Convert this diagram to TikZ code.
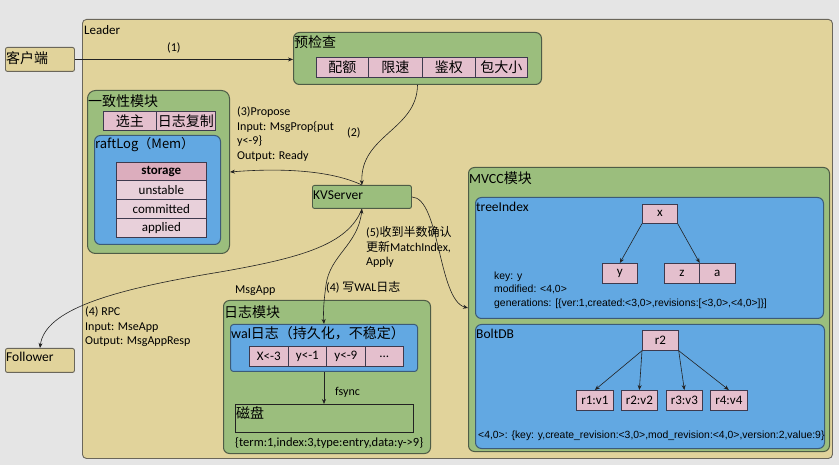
\documentclass[tikz,border=0pt]{standalone}
\usepackage{fontspec}
\setmainfont{Carlito}
\newfontfamily\cjk{Noto Sans CJK SC}
\newfontfamily\arialf{Liberation Sans}
\usetikzlibrary{arrows.meta}
\definecolor{bgc}{HTML}{E5E5E5}
\definecolor{tanc}{HTML}{E1D39B}
\definecolor{grnc}{HTML}{9BBE7D}
\definecolor{bluc}{HTML}{62A8E2}
\definecolor{pnkc}{HTML}{E4BFCD}
\definecolor{pnkd}{HTML}{DCADBD}
\definecolor{pnkl}{HTML}{E8D0DA}
\definecolor{edgec}{HTML}{6A665A}
\definecolor{gedge}{HTML}{4E5C46}
\definecolor{bedge}{HTML}{3C5B78}
\definecolor{cedge}{HTML}{3E3A4E}
\definecolor{linec}{HTML}{222222}
\tikzset{
  tanbox/.style={fill=tanc, draw=edgec, line width=0.9pt, rounded corners=2pt, inner sep=0pt, anchor=north west},
  grnbox/.style={fill=grnc, draw=gedge, line width=1pt, rounded corners=6pt, inner sep=0pt, anchor=north west},
  blubox/.style={fill=bluc, draw=bedge, line width=1pt, rounded corners=5pt, inner sep=0pt, anchor=north west},
  cell/.style={fill=pnkc, draw=cedge, line width=0.7pt, inner sep=0pt, anchor=north west, font=\fontsize{13}{15}\selectfont},
  zhcell/.style={cell, font=\cjk\fontsize{14}{16}\selectfont},
  lbl/.style={anchor=west, inner sep=0pt, font=\fontsize{13.5}{16}\selectfont},
  zhlbl/.style={anchor=west, inner sep=0pt, font=\cjk\fontsize{14}{16}\selectfont},
  note/.style={anchor=west, inner sep=0pt, align=left, font=\fontsize{12}{14.6}\selectfont},
  smalln/.style={anchor=west, inner sep=0pt, font=\arialf\fontsize{10.4}{12}\selectfont},
  conn/.style={draw=linec, line width=0.6pt, -{Stealth[length=5pt,width=4pt]}},
}
\newcommand{\bx}[6]{\node[#1, minimum width=#4pt, minimum height=#5pt] (#2) at (#3) {#6};}
\begin{document}
\begin{tikzpicture}[x=1pt,y=-1pt]
\fill[bgc] (0,0) rectangle (839,465);
\useasboundingbox (0,0) rectangle (839,465);

% Leader
\bx{tanbox, rounded corners=4pt}{leader}{82,19}{750}{439}{}
\node[lbl, font=\fontsize{13}{15}\selectfont] (leaderl) at (84,30) {Leader};

% client and follower
\bx{tanbox}{client}{5,47}{69}{24}{}
\node[zhlbl] (clientl) at (6,58) {客户端};
\bx{tanbox}{follower}{5,348}{69}{24}{}
\node[lbl] (followerl) at (6,357) {Follower};

% precheck
\bx{grnbox}{pre}{293,32}{248}{52}{}
\node[zhlbl] (prel) at (294,42) {预检查};
\bx{zhcell}{c1}{316,57}{52}{20}{配额}
\bx{zhcell}{c2}{368,57}{54}{20}{限速}
\bx{zhcell}{c3}{422,57}{53}{20}{鉴权}
\bx{zhcell}{c4}{475,57}{52}{20}{包大小}
\node[note] (n1) at (167,48) {(1)};

% consistency module
\bx{grnbox, rounded corners=8pt}{cons}{87,90}{142}{163}{}
\node[zhlbl] (consl) at (88,101) {一致性模块};
\bx{zhcell}{e1}{103,111}{53}{19}{选主}
\bx{zhcell}{e2}{156,111}{59}{19}{日志复制}
\bx{blubox, rounded corners=6pt}{raft}{94,135}{126}{109}{}
\node[zhlbl, font=\cjk\fontsize{13}{15}\selectfont] (raftl) at (95,145) {raftLog（Mem）};
\bx{cell, fill=pnkd, font=\bfseries\fontsize{13}{15}\selectfont}{s1}{116,162}{90}{18}{storage}
\bx{cell, fill=pnkl}{s2}{116,180}{90}{19}{unstable}
\bx{cell, fill=pnkl}{s3}{116,199}{90}{19}{committed}
\bx{cell, fill=pnkl}{s4}{116,218}{90}{19}{applied}

\node[note] (n3) at (237,134) {(3)Propose\\Input: MsgProp\{put\\y<-9\}\\Output: Ready};
\node[note] (n2) at (347,133) {(2)};

% KVServer
\bx{grnbox, rounded corners=2pt, line width=0.9pt}{kv}{312,185}{99}{23}{}
\node[lbl, font=\fontsize{13.5}{15}\selectfont] (kvl) at (313,195) {KVServer};

\node[note] (n5) at (366,247) {(5){\cjk 收到半数确认}\\{\cjk 更新}MatchIndex,\\Apply};
\node[note] (n4) at (85,327) {(4) RPC\\Input: MseApp\\Output: MsgAppResp};
\node[note] (nm) at (235,291) {MsgApp};
\node[note] (nw) at (326,287) {(4) {\cjk 写}WAL{\cjk 日志}};

% log module
\bx{grnbox}{logm}{223,300}{207}{153}{}
\node[zhlbl] (logml) at (224,312) {日志模块};
\bx{blubox, rounded corners=3pt}{wal}{230,324}{187}{47}{}
\node[zhlbl] (wall) at (231,333) {\fontspec{Carlito}wal\cjk 日志（持久化，不稳定）};
\bx{cell}{w1}{249,346}{39}{20}{X<-3}
\bx{cell}{w2}{288,346}{38}{20}{y<-1}
\bx{cell}{w3}{326,346}{39}{20}{y<-9}
\bx{cell}{w4}{365,346}{38}{20}{...}
\bx{grnbox, rounded corners=0pt, draw=linec, line width=0.8pt}{disk}{235,404}{178}{28}{}
\node[zhlbl] (diskl) at (236,413) {磁盘};
\node[note] (nf) at (335,392) {fsync};
\node[note, font=\fontsize{12.5}{14}\selectfont] (nt) at (235,443) {\{term:1,index:3,type:entry,data:y->9\}};

% MVCC
\bx{grnbox}{mvcc}{468,167}{361}{284}{}
\node[zhlbl] (mvccl) at (469,178) {\fontspec{Carlito}MVCC\cjk 模块};
\bx{blubox, rounded corners=6pt}{tree}{475,197}{348}{121}{}
\node[lbl] (treel) at (476,207) {treeIndex};
\bx{cell}{tx}{642,204}{35}{19}{x}
\bx{cell}{ty}{602,263}{35}{20}{y}
\bx{cell}{tz}{664,263}{35}{20}{z}
\bx{cell}{ta}{699,263}{36}{20}{a}
\node[smalln] (k1) at (494,277) {key: y};
\node[smalln] (k2) at (494,289) {modified: <4,0>};
\node[smalln] (k3) at (494,304) {generations: [\{ver:1,created:<3,0>,revisions:[<3,0>,<4,0>]\}]};

\bx{blubox, rounded corners=6pt}{bolt}{475,324}{349}{124}{}
\node[lbl] (boltl) at (476,334) {BoltDB};
\bx{cell}{r2}{642,330}{36}{20}{r2}
\bx{cell}{b1}{576,390}{37}{20}{r1:v1}
\bx{cell}{b2}{621,390}{36}{20}{r2:v2}
\bx{cell}{b3}{666,390}{36}{20}{r3:v3}
\bx{cell}{b4}{710,390}{37}{20}{r4:v4}
\node[smalln] (bt) at (478,436) {<4,0>: \{key: y,create\_revision:<3,0>,mod\_revision:<4,0>,version:2,value:9\}};

% connectors
\draw[conn] (client.east) -- (client.east -| pre.west);
\draw[conn] (pre.south) .. controls (417,130) and (360,135) .. (kv.north);
\draw[conn] (kv.north) .. controls (330,170) and (280,168) .. (cons.east |- 0,172);
\coordinate (mvin) at (468,308);
\draw[conn] (kv.east) .. controls (440,198) and (438,300) .. (mvin);
\draw[conn] (kv.south) .. controls (348,245) and (300,258) .. (220,272) .. controls (110,290) and (45,310) .. (follower.north);
\draw[conn, {Stealth[length=5pt,width=4pt]}-{Stealth[length=5pt,width=4pt]}] (kv.south) .. controls (358,245) and (330,255) .. (326,285) .. controls (324,300) and (323,310) .. (wal.north);
\draw[conn] (wal.south) -- (wal.south |- disk.north);
\draw[conn] (tx.south west) -- (ty.north);
\draw[conn] (tx.south east) -- (tz.north east);
\draw[conn] (r2.south west) -- (b1.north);
\draw[conn] (r2.south west) -- (b2.north);
\draw[conn] (r2.south east) -- (b3.north);
\draw[conn] (r2.south east) -- (b4.north);
\end{tikzpicture}
\end{document}
